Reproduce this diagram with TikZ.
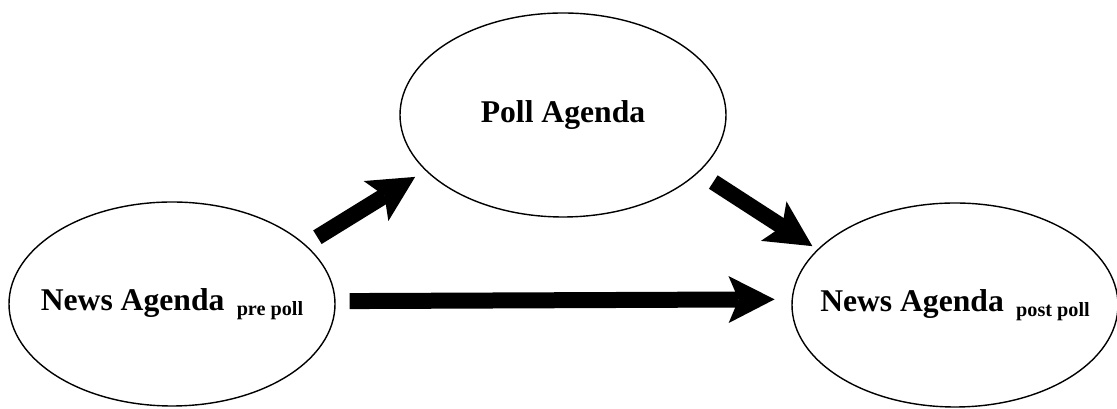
\documentclass[tikz,border=0pt]{standalone}
\usepackage{fontspec}
\setmainfont{Liberation Serif}
\usetikzlibrary{shapes.geometric,arrows.meta}
\newcommand{\subpoll}[1]{\hspace{7pt}\raisebox{-3pt}{\fontsize{11.5}{12}\selectfont #1}}

\begin{document}
\begin{tikzpicture}[agenda/.style={draw, ellipse, line width=0.8pt, minimum width=6.52cm, minimum height=4.08cm, inner sep=0pt, font=\fontsize{18}{20}\selectfont\bfseries},
  flow/.style={line width=0.32cm, -{Stealth[length=0.92cm, width=0.94cm, inset=0.2cm, line width=0pt]}}]
\useasboundingbox (0,0) rectangle (22.34,8.18);
\node[agenda] (pre) at (3.44,2.10) {\makebox[0pt]{News Agenda\subpoll{pre poll}}};
\node[agenda] (poll) at (11.26,5.88) {\makebox[0pt]{Poll Agenda}};
\node[agenda] (post) at (19.10,2.08) {\makebox[0pt]{News Agenda\subpoll{post poll}}};
\draw[flow, shorten <=0.28cm, shorten >=0.24cm] (pre.24.5) -- (poll.202.4);
\draw[flow, shorten <=0.35cm, shorten >=0.12cm] (poll.337.6) -- (post.158.3);
\draw[flow, shorten <=0.28cm, shorten >=0.34cm] (pre.1) -- (post.178.6);
\end{tikzpicture}
\end{document}
